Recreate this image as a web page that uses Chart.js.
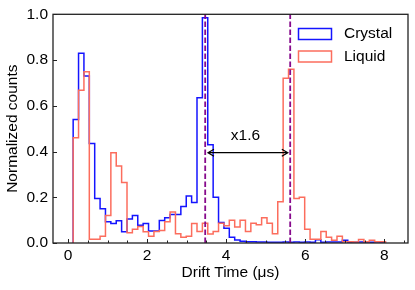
<!DOCTYPE html>
<html>
<head>
<meta charset="utf-8">
<script src="https://cdn.jsdelivr.net/npm/chart.js"></script>
<style>
  html, body { margin: 0; padding: 0; background: #fff; }
  #wrap { width: 415px; height: 290px; }
</style>
</head>
<body>
<div id="wrap"><canvas id="myChart" width="415" height="290"></canvas></div>
<script>
// histogram binning shared by both series (µs)
const binStart = 0.13;
const binWidth = 0.1362;

const crystalCounts = [
  0.54, 0.83, 0.73, 0.435, 0.195, 0.15, 0.093, 0.085, 0.097, 0.049,
  0.105, 0.12, 0.078, 0.085, 0.052, 0.052, 0.098, 0.11, 0.125, 0.125,
  0.16, 0.205, 0.177, 0.635, 0.985, 0.43, 0.20, 0.09, 0.065, 0.025,
  0.013, 0.008, 0.006, 0.005, 0.004, 0.004, 0.003, 0.003, 0.003, 0.004,
  0.003, 0.004, 0.003, 0.004, 0.003, 0.014, 0.003, 0.004, 0.004, 0.004,
  0.012, 0.003, 0.003, 0.004, 0.003, 0.003, 0.004, 0.003
];
const liquidCounts = [
  0.46, 0.668, 0.749, 0.016, 0.016, 0.03, 0.12, 0.395, 0.337, 0.265,
  0.045, 0.06, 0.072, 0.049, 0.03, 0.05, 0.055, 0.093, 0.136, 0.04,
  0.025, 0.03, 0.085, 0.05, 0.086, 0.039, 0.05, 0.086, 0.075, 0.10,
  0.07, 0.10, 0.05, 0.086, 0.08, 0.11, 0.086, 0.04, 0.18, 0.72,
  0.76, 0.195, 0.20, 0.06, 0.016, 0.016, 0.05, 0.025, 0.012, 0.03,
  0.006, 0.006, 0.004, 0.015, 0.005, 0.012, 0.005, 0.005
];

const seriesLabels = ['Crystal', 'Liquid'];
const xTickLabels = [0, 2, 4, 6, 8];
const yTickLabels = [0.0, 0.2, 0.4, 0.6, 0.8, 1.0];

// peak positions marked with dashed lines, and the ratio annotation
const peakLines = [3.47, 5.62];
const arrowFrom = 3.54, arrowTo = 5.56, arrowY = 0.395;
const ratioText = 'x1.6';
const ratioPos = [4.49, 0.47];

const FONT = 'Liberation Sans, Arial, sans-serif';
const BLUE = '#1414ff';
const RED = '#fc6d5d';
const PURPLE = '#870a8c';

function stepPoints(counts) {
  const pts = [{x: binStart, y: 0}];
  counts.forEach((v, i) => pts.push({x: binStart + i * binWidth, y: v}));
  pts.push({x: binStart + counts.length * binWidth, y: 0});
  return pts;
}

const decor = {
  id: 'decor',
  afterDatasetsDraw(chart) {
    const {ctx, chartArea: a, scales: {x, y}} = chart;
    ctx.save();

    // dashed peak markers
    ctx.strokeStyle = PURPLE;
    ctx.lineWidth = 1.8;
    ctx.setLineDash([5.5, 2.5]);
    peakLines.forEach(v => {
      const px = x.getPixelForValue(v);
      ctx.beginPath();
      ctx.moveTo(px, y.getPixelForValue(0));
      ctx.lineTo(px, a.top);
      ctx.stroke();
    });
    ctx.setLineDash([]);

    // double arrow
    const x1 = x.getPixelForValue(arrowFrom), x2 = x.getPixelForValue(arrowTo);
    const ay = y.getPixelForValue(arrowY);
    ctx.strokeStyle = '#000';
    ctx.lineWidth = 1.2;
    ctx.beginPath();
    ctx.moveTo(x1, ay); ctx.lineTo(x2, ay);
    ctx.moveTo(x1 + 6, ay - 3.5); ctx.lineTo(x1, ay); ctx.lineTo(x1 + 6, ay + 3.5);
    ctx.moveTo(x2 - 6, ay - 3.5); ctx.lineTo(x2, ay); ctx.lineTo(x2 - 6, ay + 3.5);
    ctx.stroke();
    ctx.fillStyle = '#000';
    ctx.font = '15.5px ' + FONT;
    ctx.textAlign = 'center';
    ctx.textBaseline = 'middle';
    ctx.fillText(ratioText, x.getPixelForValue(ratioPos[0]), y.getPixelForValue(ratioPos[1]));

    // frame
    ctx.strokeStyle = '#222';
    ctx.lineWidth = 1.3;
    ctx.strokeRect(a.left, a.top, a.right - a.left, a.bottom - a.top);

    // inward ticks
    ctx.lineWidth = 1;
    ctx.beginPath();
    for (let v = 0; v <= 8.5; v += 0.5) {
      const px = Math.round(x.getPixelForValue(v)) + 0.5;
      const len = v % 2 === 0 ? 4 : 2.5;
      ctx.moveTo(px, a.bottom); ctx.lineTo(px, a.bottom - len);
    }
    yTickLabels.forEach(v => {
      const py = Math.round(y.getPixelForValue(v)) + 0.5;
      ctx.moveTo(a.left, py); ctx.lineTo(a.left + 4, py);
    });
    ctx.stroke();

    // legend
    ctx.textAlign = 'left';
    chart.data.datasets.forEach((ds, i) => {
      const top = 28 + i * 22.5;
      ctx.strokeStyle = ds.borderColor;
      ctx.lineWidth = 1.5;
      ctx.strokeRect(298.5, top + 0.5, 33, 11);
      ctx.fillStyle = '#000';
      ctx.fillText(ds.label, 344, top + 6);
    });
    ctx.restore();
  }
};

const tickFont = {family: FONT, size: 15.5};

new Chart(document.getElementById('myChart').getContext('2d'), {
  type: 'line',
  data: {
    datasets: [
      {label: seriesLabels[0], data: stepPoints(crystalCounts), borderColor: BLUE, order: 1},
      {label: seriesLabels[1], data: stepPoints(liquidCounts), borderColor: RED, order: 0}
    ].map(d => Object.assign(d, {
      stepped: true, borderWidth: 1.5, pointRadius: 0, fill: false, tension: 0,
      borderJoinStyle: 'miter'
    }))
  },
  options: {
    responsive: false,
    animation: false,
    layout: {padding: {left: 0, right: 7, top: 13, bottom: 4}},
    plugins: {legend: {display: false}, tooltip: {enabled: false}},
    scales: {
      x: {
        type: 'linear', min: -0.38, max: 8.6,
        grid: {display: false, drawTicks: false}, border: {display: false},
        afterBuildTicks: s => { s.ticks = xTickLabels.map(v => ({value: v})); },
        ticks: {font: tickFont, color: '#000', padding: 3, maxRotation: 0, callback: v => String(v)},
        title: {display: true, text: 'Drift Time (μs)', font: tickFont, color: '#000', padding: {top: 0, bottom: 4}},
        afterFit: s => { s.height = 43; }
      },
      y: {
        type: 'linear', min: 0, max: 1.0,
        grid: {display: false, drawTicks: false}, border: {display: false},
        afterBuildTicks: s => { s.ticks = yTickLabels.map(v => ({value: v})); },
        ticks: {font: tickFont, color: '#000', padding: 5, callback: v => Number(v).toFixed(1)},
        title: {display: true, text: 'Normalized counts', font: tickFont, color: '#000', padding: {top: 3, bottom: 0}},
        afterFit: s => { s.width = 53; }
      }
    }
  },
  plugins: [decor]
});
</script>
</body>
</html>
